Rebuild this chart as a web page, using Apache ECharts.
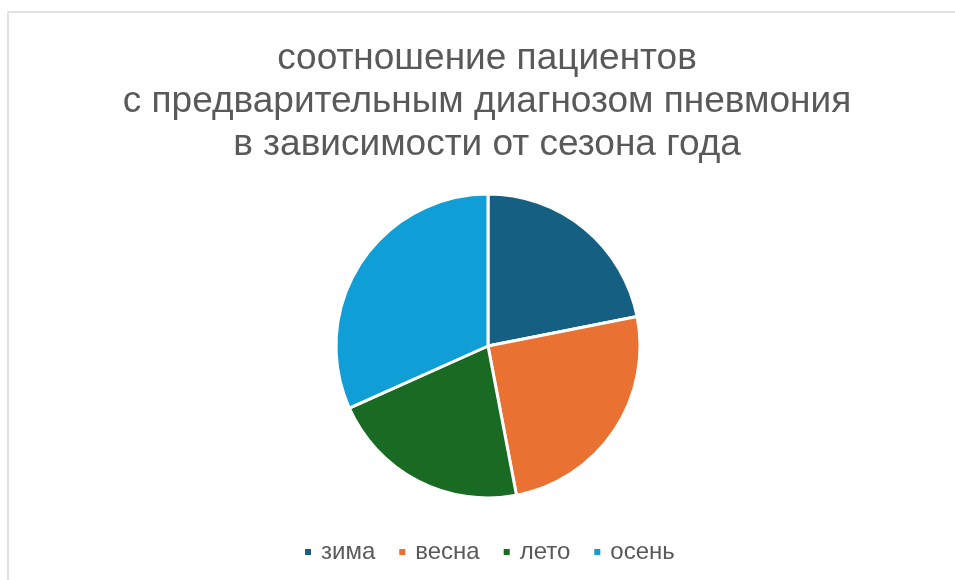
<!DOCTYPE html>
<html>
<head>
<meta charset="utf-8">
<title>Пневмония по сезонам</title>
<script src="https://cdn.jsdelivr.net/npm/echarts@6/dist/echarts.min.js"></script>
<style>
  html, body { margin: 0; padding: 0; background: #ffffff; }
  #chart { width: 955px; height: 580px; }
</style>
</head>
<body>
<div id="chart"></div>
<script>
// Share of patients with a preliminary pneumonia diagnosis, by season (%)
const seasons = ['зима', 'весна', 'лето', 'осень'];
const shares = [21.9, 25.1, 21.3, 31.7];
const seasonColors = ['#156082', '#E97132', '#196B24', '#0F9ED5'];
const titleLines = [
  'соотношение пациентов',
  'с предварительным диагнозом пневмония',
  'в зависимости от сезона года'
];

const fontFamily = '"Liberation Sans", Arial, sans-serif';
const chart = echarts.init(document.getElementById('chart'), null, { renderer: 'canvas' });

chart.setOption({
  animation: false,
  backgroundColor: '#ffffff',
  color: seasonColors,
  title: {
    text: titleLines.join('\n'),
    left: 487,
    textAlign: 'center',
    top: 37,
    padding: 0,
    textStyle: {
      fontFamily: fontFamily,
      fontSize: 37,
      fontWeight: 'normal',
      color: '#595959',
      lineHeight: 43
    }
  },
  legend: {
    data: seasons,
    bottom: 16,
    left: 303,
    icon: 'rect',
    itemWidth: 8,
    itemHeight: 8,
    itemGap: 22,
    padding: 0,
    textStyle: {
      fontFamily: fontFamily,
      fontSize: 24,
      color: '#595959',
      padding: [0, 0, 0, 4]
    }
  },
  graphic: [{
    type: 'rect',
    shape: { x: 8, y: 12, width: 1000, height: 700 },
    style: { fill: 'none', stroke: '#d9d9d9', lineWidth: 1.5 },
    silent: true,
    z: -1
  }],
  series: [{
    type: 'pie',
    center: [488, 346],
    radius: 152,
    startAngle: 90,
    clockwise: true,
    label: { show: false },
    labelLine: { show: false },
    itemStyle: { borderColor: '#ffffff', borderWidth: 3 },
    emphasis: { disabled: true },
    data: seasons.map((name, i) => ({ name: name, value: shares[i] }))
  }]
});
</script>
</body>
</html>
